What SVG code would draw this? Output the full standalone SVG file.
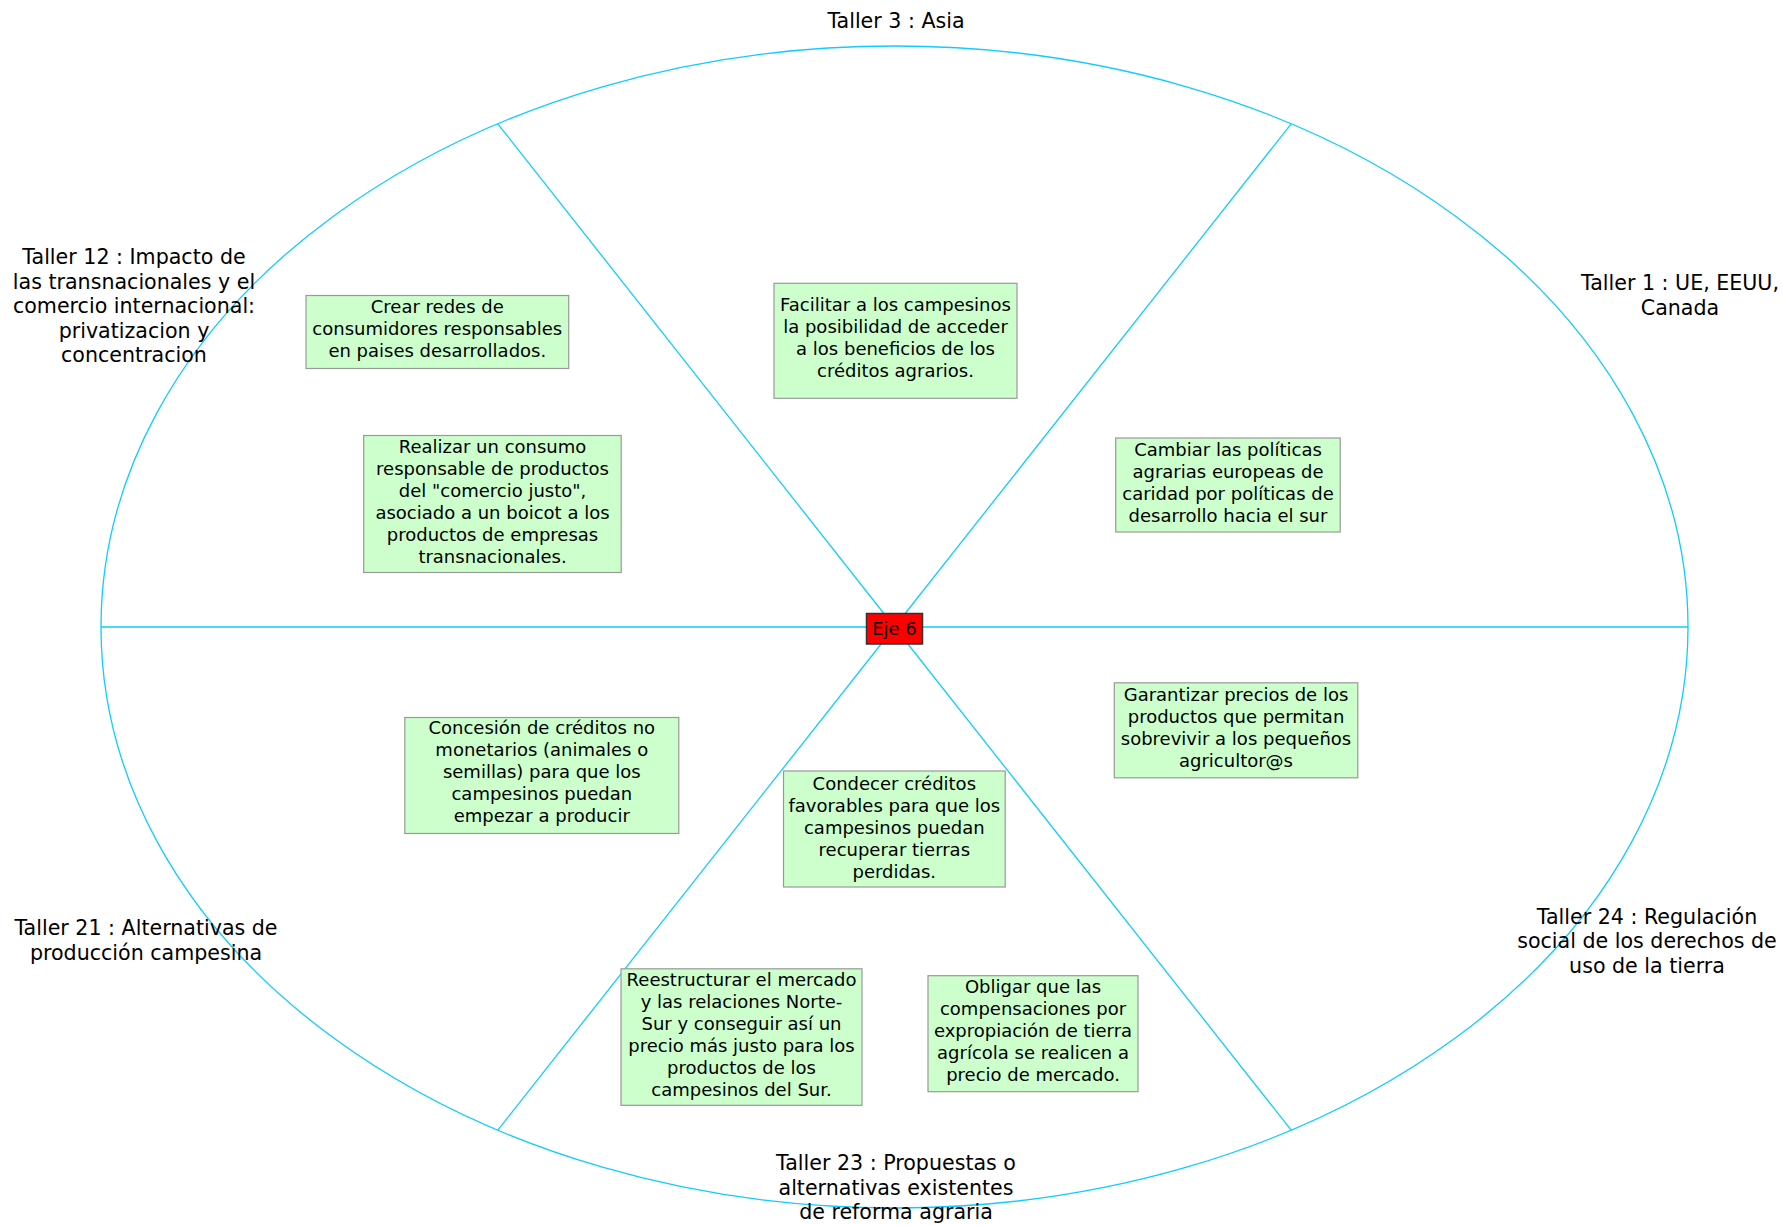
<svg xmlns="http://www.w3.org/2000/svg" width="1783" height="1225" viewBox="0 0 1783 1225">
<style>
text{font-family:"DejaVu Sans","Noto Sans",sans-serif;fill:#000;text-anchor:middle}
.lbl{font-size:20.6px}
.bt{font-size:18px}
.box{fill:#ccffcc;stroke:#999999;stroke-width:1.2}
.spoke{stroke:#11ccff;stroke-width:1.3;fill:none}
</style>
<rect width="1783" height="1225" fill="#ffffff"/>
<g id="wheel">
<ellipse cx="894.5" cy="627" rx="793.5" ry="581" class="spoke"/>
</g>
<g id="connectors">
<line class="spoke" x1="894.5" y1="627" x2="101" y2="627"/>
<line class="spoke" x1="894.5" y1="627" x2="1688" y2="627"/>
<line class="spoke" x1="894.5" y1="627" x2="497.8" y2="123.8"/>
<line class="spoke" x1="894.5" y1="627" x2="1291.2" y2="123.8"/>
<line class="spoke" x1="894.5" y1="627" x2="497.8" y2="1130.2"/>
<line class="spoke" x1="894.5" y1="627" x2="1291.2" y2="1130.2"/>
</g>
<g id="taller3"><text class="lbl" x="896" y="28">Taller 3 : Asia</text></g>
<g id="taller12"><text class="lbl" x="134" y="264">Taller 12 : Impacto de<tspan x="134" dy="24.6">las transnacionales y el</tspan><tspan x="134" dy="24.6">comercio internacional:</tspan><tspan x="134" dy="24.6">privatizacion y</tspan><tspan x="134" dy="24.6">concentracion</tspan></text></g>
<g id="taller1"><text class="lbl" x="1680" y="290">Taller 1 : UE, EEUU,<tspan x="1680" dy="24.6">Canada</tspan></text></g>
<g id="taller24"><text class="lbl" x="1647" y="923.5">Taller 24 : Regulación<tspan x="1647" dy="24.6">social de los derechos de</tspan><tspan x="1647" dy="24.6">uso de la tierra</tspan></text></g>
<g id="taller23"><text class="lbl" x="896" y="1170">Taller 23 : Propuestas o<tspan x="896" dy="24.6">alternativas existentes</tspan><tspan x="896" dy="24.6">de reforma agraria</tspan></text></g>
<g id="taller21"><text class="lbl" x="146" y="935">Taller 21 : Alternativas de<tspan x="146" dy="24.6">producción campesina</tspan></text></g>

<g id="crear"><rect class="box" x="306" y="295.5" width="262.7" height="73"/>
<text class="bt" x="437.3" y="313">Crear redes de<tspan x="437.3" dy="22">consumidores responsables</tspan><tspan x="437.3" dy="22">en paises desarrollados.</tspan></text></g>
<g id="facilitar"><rect class="box" x="774" y="283.3" width="243" height="115"/>
<text class="bt" x="895.5" y="311">Facilitar a los campesinos<tspan x="895.5" dy="22">la posibilidad de acceder</tspan><tspan x="895.5" dy="22">a los beneficios de los</tspan><tspan x="895.5" dy="22">créditos agrarios.</tspan></text></g>
<g id="realizar"><rect class="box" x="363.7" y="435.5" width="257.5" height="137"/>
<text class="bt" x="492.5" y="453">Realizar un consumo<tspan x="492.5" dy="22">responsable de productos</tspan><tspan x="492.5" dy="22">del "comercio justo",</tspan><tspan x="492.5" dy="22">asociado a un boicot a los</tspan><tspan x="492.5" dy="22">productos de empresas</tspan><tspan x="492.5" dy="22">transnacionales.</tspan></text></g>
<g id="cambiar"><rect class="box" x="1115.7" y="438" width="224.5" height="94"/>
<text class="bt" x="1228" y="456">Cambiar las políticas<tspan x="1228" dy="22">agrarias europeas de</tspan><tspan x="1228" dy="22">caridad por políticas de</tspan><tspan x="1228" dy="22">desarrollo hacia el sur</tspan></text></g>
<g id="garantizar"><rect class="box" x="1114.3" y="682.8" width="243.5" height="95"/>
<text class="bt" x="1236" y="701">Garantizar precios de los<tspan x="1236" dy="22">productos que permitan</tspan><tspan x="1236" dy="22">sobrevivir a los pequeños</tspan><tspan x="1236" dy="22">agricultor@s</tspan></text></g>
<g id="concesion"><rect class="box" x="404.8" y="717.5" width="274" height="116"/>
<text class="bt" x="541.8" y="734">Concesión de créditos no<tspan x="541.8" dy="22">monetarios (animales o</tspan><tspan x="541.8" dy="22">semillas) para que los</tspan><tspan x="541.8" dy="22">campesinos puedan</tspan><tspan x="541.8" dy="22">empezar a producir</tspan></text></g>
<g id="condecer"><rect class="box" x="783.5" y="771" width="221.7" height="116"/>
<text class="bt" x="894.3" y="789.5">Condecer créditos<tspan x="894.3" dy="22">favorables para que los</tspan><tspan x="894.3" dy="22">campesinos puedan</tspan><tspan x="894.3" dy="22">recuperar tierras</tspan><tspan x="894.3" dy="22">perdidas.</tspan></text></g>
<g id="reestructurar"><rect class="box" x="621" y="968.8" width="241" height="136.5"/>
<text class="bt" x="741.5" y="986">Reestructurar el mercado<tspan x="741.5" dy="22">y las relaciones Norte-</tspan><tspan x="741.5" dy="22">Sur y conseguir así un</tspan><tspan x="741.5" dy="22">precio más justo para los</tspan><tspan x="741.5" dy="22">productos de los</tspan><tspan x="741.5" dy="22">campesinos del Sur.</tspan></text></g>
<g id="obligar"><rect class="box" x="928" y="975.7" width="210" height="116"/>
<text class="bt" x="1033" y="993">Obligar que las<tspan x="1033" dy="22">compensaciones por</tspan><tspan x="1033" dy="22">expropiación de tierra</tspan><tspan x="1033" dy="22">agrícola se realicen a</tspan><tspan x="1033" dy="22">precio de mercado.</tspan></text></g>

<g id="eje6"><rect x="866.5" y="613.5" width="56" height="30.5" fill="#ff0000" stroke="#333333" stroke-width="1.5"/>
<text class="bt" x="894.5" y="635">Eje 6</text></g>
</svg>
